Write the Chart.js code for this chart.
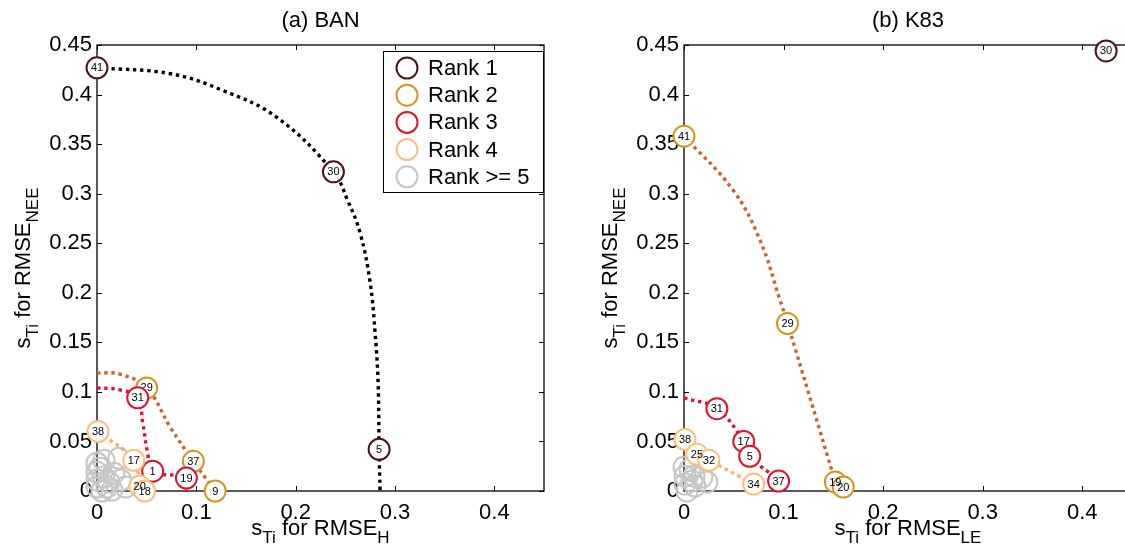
<!DOCTYPE html>
<html>
<head>
<meta charset="utf-8">
<title>BAN / K83 Pareto ranks</title>
<script src="https://cdn.jsdelivr.net/npm/chart.js@4.4.1/dist/chart.umd.min.js"></script>
<style>
    html, body { margin: 0; padding: 0; background: #fff; width: 1125px; height: 548px; overflow: hidden; }
    .panel { position: absolute; top: 0; }
    #panelA { left: 0; }
    #panelB { left: 587px; }
</style>
</head>
<body>
<div class="panel" id="panelA"><canvas id="chartA" width="560" height="548"></canvas></div>
<div class="panel" id="panelB"><canvas id="chartB" width="560" height="548"></canvas></div>
<script>
// Tick values
const xTicks = [0, 0.1, 0.2, 0.3, 0.4];
const yTicks = [0, 0.05, 0.1, 0.15, 0.2, 0.25, 0.3, 0.35, 0.4, 0.45];

// Legend
const rankNames = ['Rank 1', 'Rank 2', 'Rank 3', 'Rank 4', 'Rank >= 5'];
const rankColors = ['#4a1616', '#d49622', '#e3102c', '#f8c07c', '#c6c6c6'];
const frontColors = ['#000000', '#c8642c', '#e3102c', '#f5b264'];

// (a) BAN - ranked members
const banR1Ids = ['41', '30', '5'];
const banR1X = [0, 0.238, 0.284];
const banR1Y = [0.427, 0.322, 0.042];
const banR2Ids = ['29', '37', '9'];
const banR2X = [0.050, 0.097, 0.119];
const banR2Y = [0.104, 0.030, 0.000];
const banR3Ids = ['31', '1', '19'];
const banR3X = [0.041, 0.056, 0.090];
const banR3Y = [0.094, 0.020, 0.013];
const banR4Ids = ['38', '17', '20', '18'];
const banR4X = [0.001, 0.037, 0.043, 0.048];
const banR4Y = [0.060, 0.031, 0.005, 0.000];
const banR5X = [0, 0.007, 0.022, 0, 0.007, 0.017, 0.024, 0, 0.010, 0.005, 0.015, 0.029, 0, 0.003, 0.012];
const banR5Y = [0.028, 0.031, 0.033, 0.019, 0.014, 0.018, 0.011, 0.004, 0.004, 0, 0.001, 0.004, 0.011, 0.023, 0.009];

// (a) BAN - dotted fronts
const banF1X = [0, 0.074, 0.127, 0.181, 0.238, 0.252, 0.265, 0.275, 0.280, 0.283, 0.284, 0.285];
const banF1Y = [0.427, 0.421, 0.404, 0.377, 0.322, 0.294, 0.260, 0.210, 0.159, 0.109, 0.042, 0];
const banF2X = [0, 0.023, 0.050, 0.074, 0.097, 0.119];
const banF2Y = [0.119, 0.118, 0.104, 0.064, 0.030, 0];
const banF3X = [0, 0.023, 0.041, 0.046, 0.051, 0.056, 0.090, 0.090];
const banF3Y = [0.104, 0.102, 0.094, 0.069, 0.038, 0.020, 0.013, 0];
const banF4X = [0.001, 0.037, 0.043];
const banF4Y = [0.060, 0.031, 0.005];

// (b) K83 - ranked members
const k83R1Ids = ['30'];
const k83R1X = [0.424];
const k83R1Y = [0.444];
const k83R2Ids = ['41', '29', '19', '20'];
const k83R2X = [0, 0.104, 0.152, 0.160];
const k83R2Y = [0.358, 0.169, 0.009, 0.004];
const k83R3Ids = ['31', '17', '5', '37'];
const k83R3X = [0.033, 0.060, 0.066, 0.095];
const k83R3Y = [0.083, 0.050, 0.035, 0.010];
const k83R4Ids = ['38', '25', '32', '34'];
const k83R4X = [0.001, 0.013, 0.025, 0.070];
const k83R4Y = [0.052, 0.037, 0.031, 0.007];
const k83R5X = [0, 0.006, 0.001, 0.010, 0.018, 0.023, 0.001, 0.011, 0.003, 0.008];
const k83R5Y = [0.024, 0.022, 0.015, 0.015, 0.014, 0.009, 0.007, 0.005, 0, 0.010];

// (b) K83 - dotted fronts
const k83F2X = [0, 0.049, 0.076, 0.096, 0.104, 0.152];
const k83F2Y = [0.358, 0.304, 0.254, 0.194, 0.169, 0.009];
const k83F3X = [0, 0.033, 0.060, 0.066, 0.095, 0.098];
const k83F3Y = [0.094, 0.083, 0.050, 0.035, 0.010, 0];
const k83F4X = [0.001, 0.013, 0.025, 0.070];
const k83F4Y = [0.052, 0.037, 0.031, 0.007];

const FONT = "'Liberation Sans', Arial, Helvetica, sans-serif";

function pts(xs, ys) {
    return xs.map((x, i) => ({ x: x, y: ys[i] }));
}

function fmt(v) {
    return String(parseFloat(Number(v).toFixed(2)));
}

function frontSet(xs, ys, color) {
    return {
        data: pts(xs, ys),
        showLine: true,
        borderColor: color,
        borderWidth: 3.4,
        borderDash: [3.4, 3.8],
        borderCapStyle: 'butt',
        tension: 0.4,
        pointRadius: 0,
        fill: false,
        clip: false,
        order: 5
    };
}

function rankSet(xs, ys, ids, rank) {
    return {
        data: pts(xs, ys),
        ids: ids,
        showLine: false,
        pointRadius: 10.5,
        pointBorderWidth: 2,
        pointBorderColor: rankColors[rank],
        pointBackgroundColor: rank === 4 ? 'rgba(255,255,255,0)' : '#fff',
        clip: false,
        order: rank === 4 ? 10 : 4 - rank
    };
}

// draw a string made of normal / subscript parts, starting at (0,0) baseline
function drawParts(ctx, parts, cx, cy, angle) {
    const big = '22px ' + FONT;
    const small = '17px ' + FONT;
    let total = 0;
    parts.forEach(p => {
        ctx.font = p[1] ? small : big;
        total += ctx.measureText(p[0]).width;
    });
    ctx.save();
    ctx.translate(cx, cy);
    ctx.rotate(angle);
    ctx.fillStyle = '#000';
    ctx.textAlign = 'left';
    ctx.textBaseline = 'alphabetic';
    let pos = -total / 2;
    parts.forEach(p => {
        ctx.font = p[1] ? small : big;
        ctx.fillText(p[0], pos, p[1] ? 8 : 0);
        pos += ctx.measureText(p[0]).width;
    });
    ctx.restore();
}

// box, inward ticks
const framePlugin = {
    id: 'frame',
    beforeDatasetsDraw(chart) {
        const { ctx, chartArea: a, scales } = chart;
        ctx.save();
        ctx.strokeStyle = '#000';
        ctx.lineWidth = 1.3;
        ctx.strokeRect(a.left, a.top, a.right - a.left, a.bottom - a.top);
        ctx.beginPath();
        xTicks.forEach(v => {
            const px = Math.round(scales.x.getPixelForValue(v)) + 0.5;
            ctx.moveTo(px, a.bottom); ctx.lineTo(px, a.bottom - 5);
            ctx.moveTo(px, a.top); ctx.lineTo(px, a.top + 5);
        });
        yTicks.forEach(v => {
            const py = Math.round(scales.y.getPixelForValue(v)) + 0.5;
            ctx.moveTo(a.left, py); ctx.lineTo(a.left + 5, py);
            ctx.moveTo(a.right, py); ctx.lineTo(a.right - 5, py);
        });
        ctx.lineWidth = 1;
        ctx.stroke();
        ctx.restore();
    },
    afterDraw(chart) {
        const { ctx, chartArea: a } = chart;
        const o = chart.options.plugins.frame;
        const mid = (a.left + a.right) / 2;
        ctx.save();
        ctx.font = '22px ' + FONT;
        ctx.fillStyle = '#000';
        ctx.textAlign = 'center';
        ctx.textBaseline = 'middle';
        ctx.fillText(o.title, mid, 21);
        ctx.restore();
        drawParts(ctx, [['s', false], ['Ti', true], [' for RMSE', false], [o.xSub, true]], mid, a.bottom + 44, 0);
        drawParts(ctx, [['s', false], ['Ti', true], [' for RMSE', false], ['NEE', true]], a.left - 67, (a.top + a.bottom) / 2, -Math.PI / 2);
    }
};

// numbers inside circles
const idPlugin = {
    id: 'ids',
    afterDatasetDraw(chart, args) {
        const ds = chart.data.datasets[args.index];
        if (!ds.ids) return;
        const ctx = chart.ctx;
        ctx.save();
        ctx.font = '11px ' + FONT;
        ctx.fillStyle = '#000';
        ctx.textAlign = 'center';
        ctx.textBaseline = 'middle';
        args.meta.data.forEach((pt, i) => ctx.fillText(ds.ids[i], pt.x, pt.y + 0.5));
        ctx.restore();
    }
};

// legend box inside panel (a)
const legendPlugin = {
    id: 'rankLegend',
    afterDraw(chart) {
        const { ctx, chartArea: a } = chart;
        const left = a.right - 161, top = 51;
        ctx.save();
        ctx.fillStyle = '#fff';
        ctx.fillRect(left, top, 160, 141);
        ctx.strokeStyle = '#000';
        ctx.lineWidth = 1;
        ctx.strokeRect(left + 0.5, top + 0.5, 160, 141);
        ctx.font = '22px ' + FONT;
        ctx.textAlign = 'left';
        ctx.textBaseline = 'middle';
        rankNames.forEach((name, i) => {
            const cy = top + 17 + i * 27.2;
            ctx.beginPath();
            ctx.arc(left + 24, cy, 10.5, 0, Math.PI * 2);
            ctx.strokeStyle = rankColors[i];
            ctx.lineWidth = 2;
            ctx.stroke();
            ctx.fillStyle = '#000';
            ctx.fillText(name, left + 45, cy + 1);
        });
        ctx.restore();
    }
};

function makeOptions(title, xSub, rightPad) {
    const tickFont = { family: FONT, size: 22 };
    return {
        responsive: false,
        animation: false,
        events: [],
        layout: { padding: { left: 0, top: 45, right: rightPad, bottom: 0 } },
        plugins: {
            legend: { display: false },
            tooltip: { enabled: false },
            frame: { title: title, xSub: xSub }
        },
        scales: {
            x: {
                type: 'linear', min: 0, max: 0.45,
                grid: { display: false, drawTicks: false },
                border: { display: false },
                afterBuildTicks: s => { s.ticks = xTicks.map(v => ({ value: v })); },
                afterFit: s => { s.height = 57; },
                ticks: { padding: 9, font: tickFont, color: '#000', autoSkip: false, maxRotation: 0, callback: fmt }
            },
            y: {
                type: 'linear', min: 0, max: 0.45,
                grid: { display: false, drawTicks: false },
                border: { display: false },
                afterBuildTicks: s => { s.ticks = yTicks.map(v => ({ value: v })); },
                afterFit: s => { s.width = 97; },
                ticks: { padding: 5, font: tickFont, color: '#000', autoSkip: false, callback: fmt }
            }
        }
    };
}

new Chart(document.getElementById('chartA'), {
    type: 'scatter',
    data: {
        datasets: [
            rankSet(banR5X, banR5Y, null, 4),
            frontSet(banF1X, banF1Y, frontColors[0]),
            frontSet(banF2X, banF2Y, frontColors[1]),
            frontSet(banF3X, banF3Y, frontColors[2]),
            frontSet(banF4X, banF4Y, frontColors[3]),
            rankSet(banR4X, banR4Y, banR4Ids, 3),
            rankSet(banR3X, banR3Y, banR3Ids, 2),
            rankSet(banR2X, banR2Y, banR2Ids, 1),
            rankSet(banR1X, banR1Y, banR1Ids, 0)
        ]
    },
    options: makeOptions('(a) BAN', 'H', 16),
    plugins: [framePlugin, idPlugin, legendPlugin]
});

new Chart(document.getElementById('chartB'), {
    type: 'scatter',
    data: {
        datasets: [
            rankSet(k83R5X, k83R5Y, null, 4),
            frontSet(k83F2X, k83F2Y, frontColors[1]),
            frontSet(k83F3X, k83F3Y, frontColors[2]),
            frontSet(k83F4X, k83F4Y, frontColors[3]),
            rankSet(k83R4X, k83R4Y, k83R4Ids, 3),
            rankSet(k83R3X, k83R3Y, k83R3Ids, 2),
            rankSet(k83R2X, k83R2Y, k83R2Ids, 1),
            rankSet(k83R1X, k83R1Y, k83R1Ids, 0)
        ]
    },
    options: makeOptions('(b) K83', 'LE', 15),
    plugins: [framePlugin, idPlugin]
});
</script>
</body>
</html>
